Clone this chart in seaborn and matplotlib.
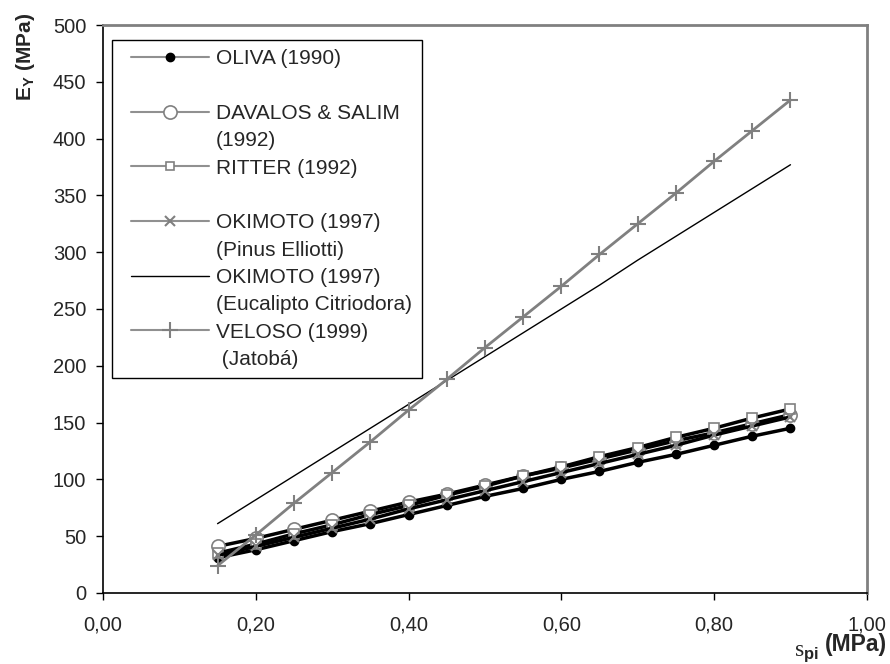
import matplotlib
matplotlib.use("Agg")
import matplotlib.pyplot as plt
from matplotlib.lines import Line2D
from matplotlib.legend_handler import HandlerLine2D
from matplotlib.ticker import FuncFormatter, MultipleLocator
import seaborn as sns
import pandas as pd

spi = [0.15, 0.20, 0.25, 0.30, 0.35, 0.40, 0.45, 0.50, 0.55, 0.60, 0.65, 0.70, 0.75, 0.80, 0.85, 0.90]
oliva = [31, 38, 46, 54, 61, 69, 77, 85, 92, 100, 107, 115, 122, 130, 138, 145]
davalos = [41, 48, 56, 64, 72, 80, 87, 95, 103, 110, 118, 126, 134, 141, 149, 157]
ritter = [35, 43, 52, 60, 69, 77, 86, 94, 103, 111, 120, 128, 137, 145, 154, 162]
okimoto_pinus = [33, 41, 49, 57, 65, 74, 82, 90, 98, 106, 114, 122, 130, 139, 147, 155]
okimoto_euc = [61, 82, 103, 124, 145, 166, 187, 208, 229, 250, 271, 293, 314, 335, 356, 377]
veloso = [24, 51, 79, 106, 133, 161, 188, 216, 243, 270, 298, 325, 352, 380, 407, 434]

legend_lines = ["OLIVA (1990)", " ", "DAVALOS & SALIM", "(1992)", "RITTER (1992)", " ",
                "OKIMOTO (1997)", "(Pinus Elliotti)", "OKIMOTO (1997)",
                "(Eucalipto Citriodora)", "VELOSO (1999)", " (Jatobá)"]
x_ticks = [0.0, 0.2, 0.4, 0.6, 0.8, 1.0]

sns.set_style("ticks")
plt.rcParams["font.family"] = ["Liberation Sans", "DejaVu Sans"]
plt.rcParams["mathtext.fontset"] = "custom"
plt.rcParams["mathtext.rm"] = "Liberation Serif"
plt.rcParams["mathtext.bf"] = "Liberation Sans:bold"
plt.rcParams["mathtext.it"] = "Liberation Sans:italic"

fig = plt.figure(figsize=(8.9, 6.64), dpi=100)
ax = fig.add_axes([0.1157, 0.107, 0.8583, 0.8553])

df = pd.DataFrame({"spi": spi, "oliva": oliva, "davalos": davalos, "ritter": ritter,
                   "pinus": okimoto_pinus, "euc": okimoto_euc, "veloso": veloso})

gray = "#808080"
styles = [
    ("oliva", dict(color="black", lw=2.5, marker="o", ms=6, mfc="black", mec="black", mew=1)),
    ("davalos", dict(color="black", lw=2.5, marker="o", ms=9.5, mfc="white", mec=gray, mew=1.2)),
    ("ritter", dict(color="black", lw=2.5, marker="s", ms=6.5, mfc="white", mec=gray, mew=1.2)),
    ("pinus", dict(color="black", lw=2.5, marker="x", ms=7, mec=gray, mew=1.5)),
    ("euc", dict(color="black", lw=1.0)),
    ("veloso", dict(color=gray, lw=2.0, marker="+", ms=11.5, mec=gray, mew=1.5)),
]
for col, st in styles:
    sns.lineplot(data=df, x="spi", y=col, ax=ax, legend=False, **st)

ax.set_xlim(0, 1)
ax.set_ylim(0, 500)
ax.set_xticks(x_ticks)
ax.yaxis.set_major_locator(MultipleLocator(50))
ax.xaxis.set_major_formatter(FuncFormatter(lambda v, p: f"{v:.2f}".replace(".", ",")))
ax.tick_params(direction="out", length=5, width=1, labelsize=14.5, color="black")
ax.tick_params(axis="y", pad=7)
ax.tick_params(axis="x", pad=11)
for s in ["left", "bottom"]:
    ax.spines[s].set_color("black")
    ax.spines[s].set_linewidth(1.2)
for s in ["top", "right"]:
    ax.spines[s].set_visible(True)
    ax.spines[s].set_color(gray)
    ax.spines[s].set_linewidth(2)

ax.set_ylabel(r"$\mathbf{E_Y}$ (MPa)", fontsize=15, fontweight="bold", ha="right", va="center")
ax.yaxis.set_label_coords(-0.102, 1.021)
xl = ax.set_xlabel("(MPa)", fontsize=16.5, fontweight="bold", ha="right", va="baseline")
ax.xaxis.set_label_coords(1.026, -0.102)
ax.annotate(r"$\mathrm{s}_{\mathbf{pi}}$", xy=(0, 0), xycoords=xl, xytext=(-4, 0),
            textcoords="offset points", ha="right", va="baseline", fontsize=17)


class ShiftHandler(HandlerLine2D):
    def create_artists(self, legend, orig_handle, xdescent, ydescent, width, height, fontsize, trans):
        shift = 0.47 * fontsize
        return super().create_artists(legend, orig_handle, xdescent - shift, ydescent,
                                      width - shift, height, fontsize, trans)


lg = "#909090"
blank = Line2D([], [], color="none")
handles = [
    Line2D([], [], color=lg, lw=1.5, marker="o", ms=6, mfc="black", mec="black"),
    blank,
    Line2D([], [], color=lg, lw=1.5, marker="o", ms=9.5, mfc="white", mec=gray, mew=1.2),
    blank,
    Line2D([], [], color=lg, lw=1.5, marker="s", ms=5.5, mfc="white", mec=gray, mew=1.2),
    blank,
    Line2D([], [], color=lg, lw=1.5, marker="x", ms=7, mec=gray, mew=1.5),
    blank,
    Line2D([], [], color="black", lw=1.0),
    blank,
    Line2D([], [], color=lg, lw=1.5, marker="+", ms=11, mec=gray, mew=1.5),
    blank,
]
leg = ax.legend(handles, legend_lines,
                handler_map={Line2D: ShiftHandler()},
                loc="upper left", bbox_to_anchor=(0.0118, 0.9736), fontsize=15,
                frameon=True, fancybox=False, edgecolor="black", framealpha=1,
                handlelength=4.21, handletextpad=0.34, labelspacing=0.4,
                borderpad=0.45, borderaxespad=0)
leg.get_frame().set_linewidth(1.0)

fig.savefig("out.png", dpi=100)
